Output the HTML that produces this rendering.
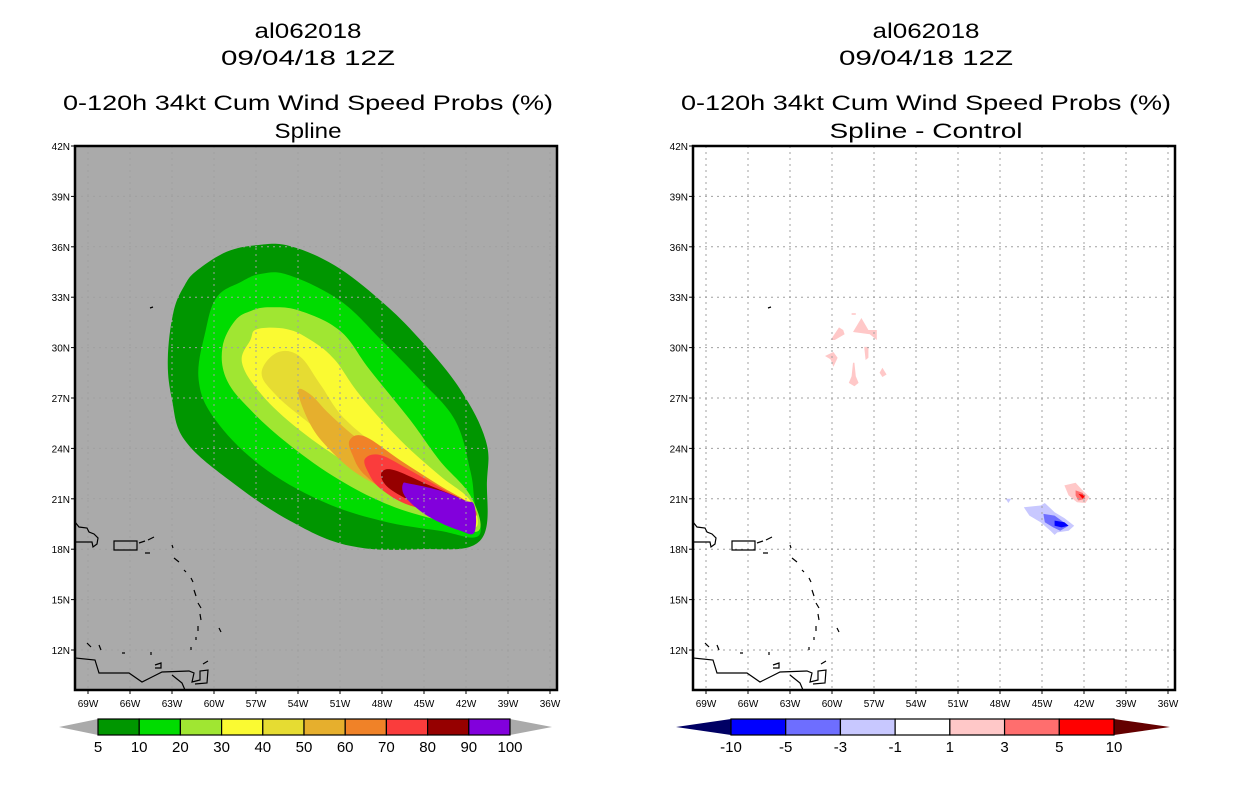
<!DOCTYPE html>
<html><head><meta charset="utf-8"><style>
html,body{margin:0;padding:0;background:#fff;}
svg{display:block;font-family:"Liberation Sans",sans-serif;}
</style></head><body>
<svg id="chart" width="1236" height="800" viewBox="0 0 1236 800" xmlns="http://www.w3.org/2000/svg">
<g id="left"></g>
<g id="right"></g>
</svg>
<script>
// ---- data ----
const lonTicks = [69,66,63,60,57,54,51,48,45,42,39,36];
const latTicks = [42,39,36,33,30,27,24,21,18,15,12];
const probLevels = [5,10,20,30,40,50,60,70,80,90];
const probLabels = ["5","10","20","30","40","50","60","70","80","90","100"];
const probColors = ["#009600","#00dc00","#a0e632","#fafa32","#e6dc32","#e6af2d","#f08228","#fa3c3c","#960000","#8200dc"];
const c5  = [[63.3,29.3],[62.9,32.1],[62.1,33.7],[61.2,34.6],[59.1,35.7],[56.9,36.1],[54.6,36.05],[51.4,34.9],[48.1,32.8],[45.3,30.5],[42.4,27.5],[40.6,24.5],[40.5,22.1],[41.0,18.5],[45.3,18.0],[50.3,18.2],[54.6,19.7],[58.9,22.1],[62.1,24.5],[63.0,26.9]];
const c10 = [[61.1,28.1],[60.6,31.0],[59.8,33.0],[58.1,33.9],[56.6,34.4],[54.6,34.3],[51.0,32.8],[48.1,30.5],[45.3,28.1],[42.8,25.7],[41.7,22.7],[41.4,20.9],[41.1,18.8],[43.9,19.1],[48.1,19.7],[52.4,20.9],[56.7,23.0],[59.9,25.7]];
const c20 = [[59.1,28.1],[59.4,30.0],[58.5,31.6],[57.3,32.2],[56.0,32.4],[53.9,32.2],[51.0,31.0],[48.9,28.7],[46.0,25.7],[43.9,23.3],[41.7,21.2],[41.1,19.1],[43.9,19.7],[47.4,20.6],[51.0,22.1],[54.6,24.2],[57.4,26.3]];
const c30 = [[58.0,29.1],[57.4,30.45],[56.9,31.1],[54.8,31.1],[53.1,30.45],[51.4,29.3],[49.6,27.2],[46.7,24.5],[43.9,22.4],[41.7,20.9],[41.3,19.3],[43.5,20.0],[46.7,21.2],[50.3,23.0],[53.9,25.1],[56.6,27.2]];
const c40 = [[56.6,28.5],[55.5,29.7],[53.9,29.5],[52.4,27.8],[50.6,25.7],[47.4,23.6],[43.9,21.8],[41.7,20.6],[41.4,19.4],[43.5,20.2],[46.7,21.5],[50.3,23.6],[53.5,25.7],[55.6,27.2]];
const c50 = [[54.0,27.4],[53.1,27.2],[51.7,26.0],[49.6,24.5],[46.7,23.0],[43.9,21.5],[41.7,20.6],[41.5,19.6],[43.5,20.2],[46.7,21.2],[49.6,22.4],[51.7,23.9],[53.1,25.4]];
const c60 = [[50.3,24.5],[49.2,24.7],[46.7,23.3],[43.9,21.8],[41.6,20.6],[41.6,19.7],[43.9,20.3],[46.7,20.9],[49.2,22.4],[50.1,23.6]];
const c70 = [[49.2,23.4],[48.1,23.6],[46.0,22.7],[43.5,21.5],[41.6,20.6],[41.4,19.9],[43.1,20.2],[46.0,20.6],[48.1,21.6],[49.0,22.6]];
const c80 = [[48.0,22.6],[47.1,22.7],[44.6,21.8],[42.1,20.9],[41.6,20.5],[41.7,20.0],[43.5,20.0],[45.3,20.6],[47.1,21.4],[47.9,22.0]];
const c90 = [[46.5,21.9],[46.0,21.9],[43.9,21.5],[42.1,20.9],[41.4,20.6],[41.4,19.0],[42.4,19.1],[43.9,19.6],[45.3,20.3],[46.4,21.2]];
const diffLabels = ["-10","-5","-3","-1","1","3","5","10"];
const diffColors = ["#0000ff","#6e6eff","#c8c8ff","#ffffff","#ffc8c8","#ff6e6e","#ff0000"];
const diffLow = [[[46.3,20.5],[45.1,20.6],[44.8,20.75],[44.1,20.2],[43.4,19.85],[42.7,19.4],[43.1,19.1],[43.9,19.0],[44.1,18.85],[44.4,19.1],[45.1,19.6],[45.9,20.0]],
  [[47.6,21.0],[47.2,21.0],[47.4,20.75]]];
const diffMid = [[[44.9,20.1],[44.1,20.0],[43.1,19.4],[43.7,19.1],[44.2,19.3],[44.8,19.6]]];
const diffDeep = [[[44.1,19.7],[43.4,19.6],[43.1,19.4],[43.6,19.3],[44.1,19.4]]];
const diffPos1 = [[[43.4,21.8],[42.6,21.95],[42.1,21.5],[41.6,21.1],[41.9,20.75],[42.5,20.8],[43.1,21.2]],
  [[57.9,31.76],[57.4,31.05],[56.8,31.05],[56.8,30.45],[57.3,30.8],[58.5,30.93]],
  [[59.5,31.2],[59.2,31.05],[59.1,30.8],[59.8,30.45],[60.1,30.45]],
  [[58.6,32.05],[58.3,32.05],[58.3,31.95],[58.6,31.95]],
  [[60.5,29.5],[59.9,29.74],[59.6,29.4],[59.9,28.85],[60.1,29.3]],
  [[57.7,30.04],[57.4,30.04],[57.4,29.4],[57.6,29.26]],
  [[58.5,29.1],[58.4,29.1],[58.3,28.3],[58.1,27.9],[58.4,27.7],[58.8,27.9],[58.6,28.3]],
  [[56.6,28.5],[56.4,28.8],[56.1,28.4],[56.4,28.25]]];
const diffPos3 = [[[42.6,21.5],[42.1,21.35],[41.9,21.0],[42.4,20.9],[42.6,21.2]]];
const diffPos5 = [[[42.4,21.3],[41.9,21.2],[42.1,21.0]]];

const NS="http://www.w3.org/2000/svg";
const PW=482, PT=146, PB=690;
function xOf(lon){return 13 + (69-lon)*14;}
function yOf(lat){return PT + (42-lat)*16.8;}
function mk(tag,attrs,parent){const e=document.createElementNS(NS,tag);for(const k in attrs)e.setAttribute(k,attrs[k]);parent.appendChild(e);return e;}
function pts(poly){return poly.map(p=>xOf(p[0]).toFixed(1)+","+yOf(p[1]).toFixed(1)).join(" ");}
function smooth(poly){
  const P=poly.map(p=>[xOf(p[0]),yOf(p[1])]),n=P.length,t=0.18;
  let d="M"+P[0][0].toFixed(1)+","+P[0][1].toFixed(1);
  for(let i=0;i<n;i++){
    const p0=P[(i-1+n)%n],p1=P[i],p2=P[(i+1)%n],p3=P[(i+2)%n];
    const c1=[p1[0]+(p2[0]-p0[0])*t,p1[1]+(p2[1]-p0[1])*t];
    const c2=[p2[0]-(p3[0]-p1[0])*t,p2[1]-(p3[1]-p1[1])*t];
    d+=" C"+c1.map(v=>v.toFixed(1)).join(",")+" "+c2.map(v=>v.toFixed(1)).join(",")+" "+p2.map(v=>v.toFixed(1)).join(",");
  }
  return d+"Z";
}

const coast = "M0,522 L4,527 L12,528 L14,532 L19,534 L23,538 L22,544 L18,547 L17,542 L0,542 " +
 "M39,541 L62,541 L62,550 L39,550 Z M64,543 L70,541 M73,540 L79,537 M70,553 L75,553 " +
 "M97,545 L98,548 M99,558 L104,562 M109,570 L111,572 M116,578 L118,582 M119,590 L121,596 M123,603 L126,608 M125,614 L126,620 M123,626 L123,631 M121,637 L121,640 M116,647 L116,650 M144,628 L146,632 " +
 "M0,642 L0,658 L20,660 L24,673 L54,673 L67,682 L77,677 L87,672 L114,671 L119,673 L117,682 L125,680 L125,671 L133,670 L132,683 L120,684 " +
 "M97,675 L107,683 L110,690 M12,643 L16,647 M24,645 L26,650 M47,653 L50,653 M76,652 L76,655 M80,665 L86,663 L86,668 L80,668 M128,664 L133,661 M75,308 L78,307";

function panel(g, x0, bg, titles, lens){
  const tt=[["al062018",38],["09/04/18 12Z",65],[titles[0],110],[titles[1],138]];
  const cx=x0+PW/2-8;
  tt.forEach((t,i)=>{const e=mk("text",{x:cx,y:t[1],"text-anchor":"middle","font-size":21,fill:"#000",textLength:lens[i],lengthAdjust:"spacingAndGlyphs"},g);
    e.textContent=t[0];
    
    });
  const plot=mk("g",{transform:"translate("+x0+",0)"},g);
  
  
  mk("rect",{x:0,y:PT,width:PW,height:PB-PT,fill:bg},plot);
  return plot;
}
function grid(plot,g,x0){
  const gg=mk("g",{stroke:"#a0a0a0","stroke-width":1,"stroke-dasharray":"2,4"},plot);
  
  
  lonTicks.forEach(l=>{const x=xOf(l);if(x>1&&x<PW-1)mk("line",{x1:x,y1:PT,x2:x,y2:PB},gg);});
  latTicks.forEach(l=>{const y=yOf(l);if(y>PT+1&&y<PB-1)mk("line",{x1:0,y1:y,x2:PW,y2:y},gg);});
  const c=mk("path",{d:coast,fill:"none",stroke:"#000","stroke-width":1.2},plot);
  
  
  const f=mk("rect",{x:0,y:PT,width:PW,height:PB-PT,fill:"none",stroke:"#000","stroke-width":2.5},plot);
  
  
  lonTicks.forEach(l=>{const x=x0+xOf(l);
    mk("line",{x1:x,y1:PB,x2:x,y2:PB+4,stroke:"#000"},g);
    const t=mk("text",{x:x,y:PB+17,"text-anchor":"middle","font-size":10},g);t.textContent=l+"W";
    
    });
  latTicks.forEach(l=>{const y=yOf(l);
    mk("line",{x1:x0-4,y1:y,x2:x0,y2:y,stroke:"#000"},g);
    const t=mk("text",{x:x0-5,y:y+4,"text-anchor":"end","font-size":10},g);t.textContent=l+"N";
    
    });
}
function colorbar(g,tipL,x1,x2,tipR,colors,labels,tipLC,tipRC){
  const y1=719,y2=735,ym=727,n=colors.length,w=(x2-x1)/n;
  const a=mk("polygon",{points:tipL+","+ym+" "+x1+","+y1+" "+x1+","+y2,fill:tipLC},g);
  
  const b=mk("polygon",{points:tipR+","+ym+" "+x2+","+y1+" "+x2+","+y2,fill:tipRC},g);
  
  colors.forEach((c,i)=>{const r=mk("rect",{x:x1+i*w,y:y1,width:w,height:y2-y1,fill:c,stroke:"#000","stroke-width":1.2},g);
    });
  labels.forEach((l,i)=>{const t=mk("text",{x:x1+i*w,y:752,"text-anchor":"middle","font-size":15},g);t.textContent=l;
    });
}

// left
const L=document.getElementById("left");
const lp=panel(L,75,"#aaaaaa",["0-120h 34kt Cum Wind Speed Probs (%)","Spline"],[107,174,490,67]);
[c5,c10,c20,c30,c40,c50,c60,c70,c80,c90].forEach((poly,i)=>{
  const p=mk("path",{d:smooth(poly),fill:probColors[i]},lp);
  
  
});
grid(lp,L,75);
colorbar(L,59,98,510,552,probColors,probLabels,"#aaaaaa","#aaaaaa");

// right
const R=document.getElementById("right");
const rp=panel(R,693,"#ffffff",["0-120h 34kt Cum Wind Speed Probs (%)","Spline - Control"],[107,174,490,193]);
[[diffLow,"#c8c8ff","diff-minus-1"],[diffMid,"#6e6eff","diff-minus-3"],[diffDeep,"#0000ff","diff-minus-5"],
 [diffPos1,"#ffc8c8","diff-plus-1"],[diffPos3,"#ff6e6e","diff-plus-3"],[diffPos5,"#ff0000","diff-plus-5"]].forEach(s=>{
  s[0].forEach(poly=>{const p=mk("polygon",{points:pts(poly),fill:s[1]},rp);
    
    });
});
grid(rp,R,693);
colorbar(R,676,731,1114,1170,diffColors,diffLabels,"#000064","#640000");
</script>
</body></html>
